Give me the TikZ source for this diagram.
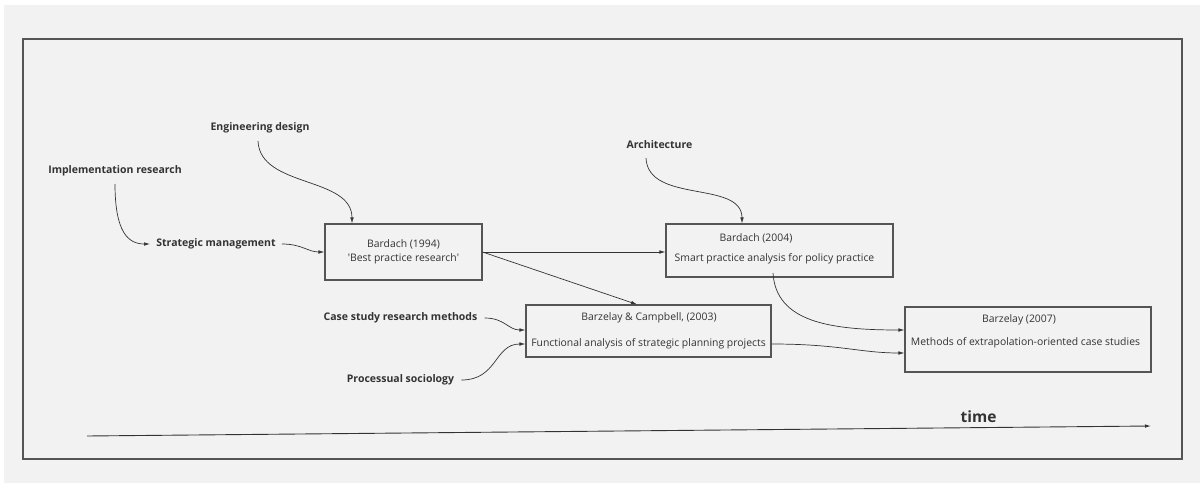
\documentclass[tikz,border=0pt]{standalone}
\usepackage{fontspec}
\setmainfont{Open Sans}
\usetikzlibrary{arrows.meta}
\definecolor{bg}{HTML}{F2F2F2}
\definecolor{ink}{HTML}{333333}
\definecolor{frame}{HTML}{555555}
\tikzset{
  lbl/.style={inner sep=0pt, font=\fontsize{10.5}{12}\selectfont\bfseries, text=ink},
  boxtxt/.style={inner sep=0pt, font=\fontsize{10.4}{12}\selectfont, text=ink},
  box/.style={draw=frame, line width=1.1pt, inner sep=0pt},
  conn/.style={draw=ink, line width=0.7pt, -{Latex[length=6pt,width=3.6pt]}},
}
\begin{document}
\begin{tikzpicture}[x=1pt,y=-1pt]
\useasboundingbox (0,0) rectangle (1203,487);
\fill[white] (0,0) rectangle (1203,487);
\fill[bg] (4,5) rectangle (1200,483);
\draw[frame, line width=1.1pt] (23,39) rectangle (1182,459);

% boxes
\node[box, minimum width=157pt, minimum height=56pt] (b94) at (403.5,252) {};
\node[box, minimum width=227pt, minimum height=53pt] (b04) at (779.5,250.5) {};
\node[box, minimum width=245pt, minimum height=52pt] (bc) at (648.5,331) {};
\node[box, minimum width=246pt, minimum height=65pt] (b07) at (1028,339.5) {};

% box texts
\node[boxtxt] (t94a) at (403.5,244) {Bardach (1994)};
\node[boxtxt] (t94b) at (403.5,259) {\textquotesingle Best practice research\textquotesingle};
\node[boxtxt] (t04a) at (756,238) {Bardach (2004)};
\node[boxtxt] (t04b) at (774.5,259) {Smart practice analysis for policy practice};
\node[boxtxt] (tbca) at (649,318) {Barzelay \& Campbell, (2003)};
\node[boxtxt] (tbcb) at (648.5,344) {Functional analysis of strategic planning projects};
\node[boxtxt] (t07a) at (1019,320) {Barzelay (2007)};
\node[boxtxt] (t07b) at (1025.5,343) {Methods of extrapolation-oriented case studies};

% labels
\node[lbl] (ir) at (115,171) {Implementation research};
\node[lbl] (ed) at (260,128) {Engineering design};
\node[lbl] (sm) at (216,244) {Strategic management};
\node[lbl] (ar) at (659.5,145) {Architecture};
\node[lbl] (cs) at (400.5,318) {Case study research methods};
\node[lbl] (ps) at (400.5,380) {Processual sociology};
\node[inner sep=0pt, font=\fontsize{15.5}{18}\selectfont\bfseries, text=ink] (time) at (978.5,417) {time};

% connectors
\coordinate (irs) at (115,184);
\coordinate (eds) at (258,141);
\coordinate (ars) at (646,158);
\coordinate (b04s) at (773,273);
\draw[conn] (irs) .. controls (115,232) and (128,244) .. (150,244);
\draw[conn] (eds) .. controls (260,188) and (352,176) .. (b94.north -| 352,0);
\draw[conn] ([xshift=6pt]sm.east) .. controls (302,244) and (308,252) .. (b94.west);
\draw[conn] (b94.east) -- (b04.west |- b94.east);
\draw[conn] (b94.east) -- (bc.north -| 637,0);
\draw[conn] (ars) .. controls (648,204) and (742,180) .. (b04.north -| 742,0);
\draw[conn] ([xshift=7pt]cs.east) .. controls (505,318) and (508,330) .. (bc.west |- 0,330);
\draw[conn] ([xshift=7pt]ps.east) .. controls (498,380) and (494,344) .. (bc.west |- 0,344);
\draw[conn] (b04s) .. controls (776,322) and (830,330) .. (b07.west |- 0,330);
\draw[conn] (bc.east |- 0,344) .. controls (840,344) and (860,353) .. (b07.west |- 0,353);

% time axis
\coordinate (t0) at (87,436);
\coordinate (t1) at (1151,426);
\draw[conn, line width=0.9pt] (t0) -- (t1);
\end{tikzpicture}
\end{document}
